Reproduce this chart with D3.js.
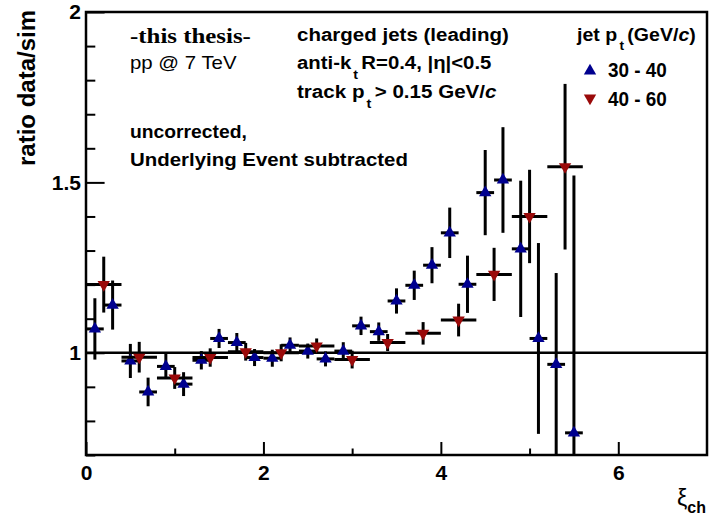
<!DOCTYPE html>
<html>
<head>
<meta charset="utf-8">
<script src="https://cdn.jsdelivr.net/npm/d3@7"></script>
<style>
  body { margin: 0; background: #fff; }
  svg { display: block; }
</style>
</head>
<body>
<svg id="chart" width="709" height="518"></svg>
<script>
// ---- data: ratio data/sim vs xi_ch for leading charged jets ----
// jet pt 30 - 40 GeV/c (bin width 0.2)
const xiLow = [0.1, 0.3, 0.5, 0.7, 0.9, 1.1, 1.3, 1.5, 1.7, 1.9, 2.1, 2.3, 2.5, 2.7,
               2.9, 3.1, 3.3, 3.5, 3.7, 3.9, 4.1, 4.3, 4.5, 4.7, 4.9, 5.1, 5.3, 5.5];
const ratioLow = [1.07, 1.14, 0.976, 0.885, 0.96, 0.908, 0.978, 1.042, 1.03, 0.986, 0.984, 1.022, 1.005, 0.982,
                  1.005, 1.079, 1.062, 1.152, 1.198, 1.257, 1.352, 1.201, 1.47, 1.507, 1.305, 1.042, 0.966, 0.765];
const errLow = [0.09, 0.072, 0.05, 0.042, 0.037, 0.035, 0.027, 0.028, 0.028, 0.025, 0.025, 0.023, 0.022, 0.022,
                0.026, 0.027, 0.027, 0.037, 0.043, 0.053, 0.074, 0.084, 0.125, 0.155, 0.2, 0.28, 0.268, 0.755];
const binLow = 0.2;

// jet pt 40 - 60 GeV/c (bin width 0.4)
const xiHigh = [0.2, 0.6, 1.0, 1.4, 1.8, 2.2, 2.6, 3.0, 3.4, 3.8, 4.2, 4.6, 5.0, 5.4];
const ratioHigh = [1.2, 0.987, 0.926, 0.986, 1.003, 1.0, 1.02, 0.98, 1.03, 1.057, 1.096, 1.23, 1.4, 1.546];
const errHigh = [0.082, 0.045, 0.032, 0.027, 0.026, 0.025, 0.022, 0.026, 0.025, 0.033, 0.048, 0.078, 0.137, 0.243];
const binHigh = 0.4;

// axes
const xDomain = [0, 7];
const yDomain = [0.7, 2];
const xTicksMajor = [0, 2, 4, 6];
const xTicksMinor = [1, 3, 5];
const yTicksMajor = [1, 1.5, 2];
const yTicksMinor = [0.7, 0.8, 0.9, 1.1, 1.2, 1.3, 1.4, 1.6, 1.7, 1.8, 1.9];
const seriesNames = ["30 - 40", "40 - 60"];

// ---- layout ----
const frame = { left: 86, right: 707, top: 12, bottom: 455 };
const blue = "#00008f";
const red = "#9a0a0a";
const SANS = "'Liberation Sans', Arial, Helvetica, sans-serif";
const SERIF = "'Liberation Serif', 'Times New Roman', serif";

const svg = d3.select("#chart");
svg.append("rect").attr("width", 709).attr("height", 518).attr("fill", "#fff");

const x = d3.scaleLinear().domain(xDomain).range([frame.left, frame.right]);
const y = d3.scaleLinear().domain(yDomain).range([frame.bottom, frame.top]);

const plotW = frame.right - frame.left;
const plotH = frame.bottom - frame.top;

// clip for error bars reaching past the frame
svg.append("defs").append("clipPath").attr("id", "plotClip")
  .append("rect").attr("x", frame.left).attr("y", frame.top)
  .attr("width", plotW).attr("height", plotH);

// ---- axes (ticks point into the frame) ----
function styleAxis(g) {
  g.select(".domain").remove();
  g.selectAll(".tick line").attr("stroke", "#000").attr("stroke-width", 2);
  g.selectAll(".tick text").attr("fill", "#000")
    .attr("font-family", SANS).attr("font-weight", "bold");
}

const xMajor = svg.append("g").attr("transform", `translate(0,${frame.bottom})`)
  .call(d3.axisBottom(x).tickValues(xTicksMajor).tickSizeInner(-13).tickSizeOuter(0)
        .tickPadding(10).tickFormat(d3.format("d")));
styleAxis(xMajor);
xMajor.selectAll(".tick text").attr("font-size", 21);

const xMinor = svg.append("g").attr("transform", `translate(0,${frame.bottom})`)
  .call(d3.axisBottom(x).tickValues(xTicksMinor).tickSizeInner(-6.5).tickSizeOuter(0).tickFormat(""));
styleAxis(xMinor);

const yMajor = svg.append("g").attr("transform", `translate(${frame.left},0)`)
  .call(d3.axisLeft(y).tickValues(yTicksMajor).tickSizeInner(-18.6).tickSizeOuter(0)
        .tickPadding(5).tickFormat(d => String(d)));
styleAxis(yMajor);
yMajor.selectAll(".tick text").attr("font-size", 21);

const yMinor = svg.append("g").attr("transform", `translate(${frame.left},0)`)
  .call(d3.axisLeft(y).tickValues(yTicksMinor).tickSizeInner(-9.3).tickSizeOuter(0).tickFormat(""));
styleAxis(yMinor);

// reference line at ratio = 1
svg.append("line")
  .attr("x1", x(xDomain[0])).attr("x2", x(xDomain[1]))
  .attr("y1", y(1)).attr("y2", y(1))
  .attr("stroke", "#000").attr("stroke-width", 2.5);

// ---- error bars and markers ----
const markerSize = 66;
function drawSeries(xs, vals, errs, bin, color, down) {
  const pts = xs.map((v, i) => ({ xi: v, r: vals[i], e: errs[i] }));
  const g = svg.append("g").attr("clip-path", "url(#plotClip)");
  g.selectAll("line.v").data(pts).join("line")
    .attr("x1", d => x(d.xi)).attr("x2", d => x(d.xi))
    .attr("y1", d => y(d.r - d.e)).attr("y2", d => y(d.r + d.e))
    .attr("stroke", "#000").attr("stroke-width", 3);
  g.selectAll("line.h").data(pts).join("line")
    .attr("x1", d => x(d.xi - bin / 2)).attr("x2", d => x(d.xi + bin / 2))
    .attr("y1", d => y(d.r)).attr("y2", d => y(d.r))
    .attr("stroke", "#000").attr("stroke-width", 3);
  const sym = d3.symbol().type(d3.symbolTriangle).size(markerSize);
  svg.append("g").selectAll("path").data(pts).join("path")
    .attr("d", sym)
    .attr("transform", d => `translate(${x(d.xi)},${y(d.r)})` + (down ? " rotate(180)" : ""))
    .attr("fill", color);
}
drawSeries(xiLow, ratioLow, errLow, binLow, blue, false);
drawSeries(xiHigh, ratioHigh, errHigh, binHigh, red, true);

// frame on top
svg.append("rect")
  .attr("x", frame.left).attr("y", frame.top)
  .attr("width", plotW).attr("height", plotH)
  .attr("fill", "none").attr("stroke", "#000").attr("stroke-width", 2.5);

// ---- text helpers ----
// builds a text line from pieces; pieces: {t, sub, it}
function label(px, py, pieces, opts) {
  const o = Object.assign({ size: 17, weight: "bold", family: SANS, width: null }, opts);
  const t = svg.append("text")
    .attr("font-family", o.family).attr("font-size", o.size).attr("font-weight", o.weight)
    .attr("fill", "#000");
  let shifted = 0;
  pieces.forEach(p => {
    const ts = t.append("tspan").text(p.t);
    if (p.sub) {
      ts.attr("font-size", o.size * 0.7).attr("dy", o.size * 0.5 - shifted).attr("dx", 2);
      shifted = o.size * 0.5;
    } else if (shifted) {
      ts.attr("dy", -shifted).attr("dx", 3);
      shifted = 0;
    }
    if (p.it) ts.attr("font-style", "italic");
  });
  let sx = 1;
  if (o.width) {
    const w = t.node().getBBox().width;
    if (w > 0) sx = o.width / w;
  }
  t.attr("transform", `translate(${px},${py}) scale(${sx},1)`);
  return t;
}

// left text block
label(130, 43, [{ t: "-this thesis-" }], { size: 22, family: SERIF, width: 121 });
label(130, 69, [{ t: "pp @ 7 TeV" }], { size: 17.5, weight: "normal", width: 107 });
label(130, 138, [{ t: "uncorrected," }], { size: 19, width: 117 });
label(130, 166, [{ t: "Underlying Event subtracted" }], { size: 19, width: 278 });

// middle text block
label(297, 41, [{ t: "charged jets (leading)" }], { size: 19, width: 212 });
label(297, 69, [{ t: "anti-k" }, { t: "t", sub: true }, { t: "R=0.4, |η|<0.5" }], { size: 19, width: 195 });
label(297, 98, [{ t: "track p" }, { t: "t", sub: true }, { t: "> 0.15 GeV/" }, { t: "c", it: true }], { size: 19, width: 200 });

// legend
label(577, 41, [{ t: "jet p" }, { t: "t", sub: true }, { t: "(GeV/" }, { t: "c", it: true }, { t: ")" }], { size: 17.5, width: 120 });
const legSym = d3.symbol().type(d3.symbolTriangle).size(markerSize);
svg.append("path").attr("d", legSym).attr("fill", blue)
  .attr("transform", "translate(590,71)");
svg.append("path").attr("d", legSym).attr("fill", red)
  .attr("transform", "translate(590,98) rotate(180)");
label(608, 77, [{ t: seriesNames[0] }], { size: 19.5, width: 59 });
label(608, 106, [{ t: seriesNames[1] }], { size: 19.5, width: 59 });

// axis titles
svg.append("text")
  .attr("transform", `translate(35,${frame.top - 2}) rotate(-90)`)
  .attr("text-anchor", "end")
  .attr("font-family", SANS).attr("font-weight", "bold").attr("font-size", 24)
  .text("ratio data/sim");

const xt = svg.append("text")
  .attr("text-anchor", "end")
  .attr("transform", `translate(${frame.right - 1},506)`)
  .attr("font-family", SANS).attr("font-size", 23);
xt.append("tspan").text("ξ");
xt.append("tspan").attr("font-size", 16).attr("font-weight", "bold").attr("dy", 7).text("ch");
</script>
</body>
</html>
